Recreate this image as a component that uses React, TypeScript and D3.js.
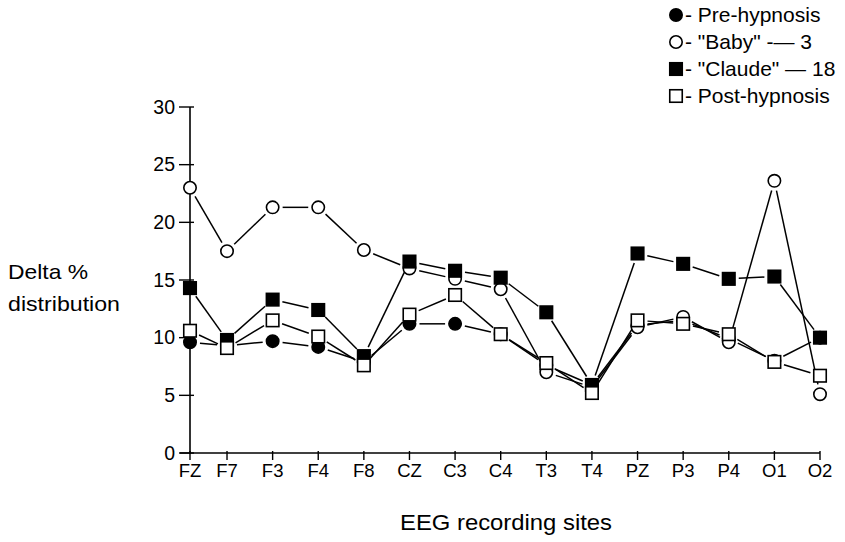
import React from "react";
import * as d3 from "d3";

const sites = ["FZ", "F7", "F3", "F4", "F8", "CZ", "C3", "C4", "T3", "T4", "PZ", "P3", "P4", "O1", "O2"];
const preHypnosis = [9.6, 9.3, 9.7, 9.2, 7.9, 11.2, 11.2, 10.3, 7.6, 5.9, 11.1, 11.5, 9.9, 8.0, 10.0];
const baby3 = [23.0, 17.5, 21.3, 21.3, 17.6, 16.0, 15.1, 14.2, 7.0, 5.7, 10.9, 11.8, 9.6, 23.6, 5.1];
const claude18 = [14.3, 9.8, 13.3, 12.4, 8.4, 16.6, 15.8, 15.2, 12.2, 5.9, 17.3, 16.4, 15.1, 15.3, 10.0];
const postHypnosis = [10.6, 9.1, 11.5, 10.1, 7.6, 12.0, 13.7, 10.3, 7.8, 5.2, 11.5, 11.2, 10.3, 7.9, 6.7];
const yTicks = [0, 5, 10, 15, 20, 25, 30];

const seriesNames = ["- Pre-hypnosis", '- "Baby" -— 3', '- "Claude" — 18', "- Post-hypnosis"];
const seriesValues = [preHypnosis, baby3, claude18, postHypnosis];
const seriesShape = ["circle", "circle", "square", "square"];
const seriesFill = ["#000", "#fff", "#000", "#fff"];

const W = 845;
const H = 542;
const axisX = 190;
const FONT = "'Liberation Sans', Arial, Helvetica, sans-serif";

export default function App() {
  const x = d3.scalePoint<string>().domain(sites).range([181.4, 820]);
  const px = (s: string) => Math.max(x(s) as number, axisX);
  const y = d3.scaleLinear().domain([0, 30]).range([453, 107]);

  const R = 6.2;
  const S = 12.5;
  const GAP = 10;

  const marker = (shape: string, fill: string, cx: number, cy: number, key: string) =>
    shape === "circle" ? (
      <circle key={key} cx={cx} cy={cy} r={R} fill={fill} stroke="#000" strokeWidth={1.6} />
    ) : (
      <rect key={key} x={cx - S / 2} y={cy - S / 2} width={S} height={S} fill={fill} stroke="#000" strokeWidth={1.6} />
    );

  const segments: JSX.Element[] = [];
  seriesValues.forEach((vals, si) => {
    for (let i = 0; i < vals.length - 1; i++) {
      const x1 = px(sites[i]);
      const y1 = y(vals[i]);
      const x2 = px(sites[i + 1]);
      const y2 = y(vals[i + 1]);
      const dx = x2 - x1;
      const dy = y2 - y1;
      const len = Math.hypot(dx, dy);
      if (len <= 2 * GAP) continue;
      const ux = dx / len;
      const uy = dy / len;
      segments.push(
        <line
          key={`s${si}-${i}`}
          x1={x1 + ux * GAP}
          y1={y1 + uy * GAP}
          x2={x2 - ux * GAP}
          y2={y2 - uy * GAP}
          stroke="#000"
          strokeWidth={1.5}
        />
      );
    }
  });

  return (
    <svg
      width={W}
      height={H}
      style={{ position: "absolute", left: 0, top: 0, background: "#fff" }}
      fontFamily={FONT}
    >
      <rect width={W} height={H} fill="#fff" />
      {/* axes */}
      <line x1={axisX} y1={y(30)} x2={axisX} y2={y(0) + 1} stroke="#000" strokeWidth={1.6} />
      <line x1={180} y1={y(0)} x2={820} y2={y(0)} stroke="#000" strokeWidth={1.6} />
      {yTicks.map((t) => (
        <g key={`yt${t}`}>
          <line x1={179} x2={194} y1={y(t)} y2={y(t)} stroke="#000" strokeWidth={1.4} />
          <text x={175} y={y(t)} dy="0.35em" textAnchor="end" fontSize={19.5} fill="#000">
            {t}
          </text>
        </g>
      ))}
      {sites.map((s) => (
        <g key={`xt${s}`}>
          <line x1={px(s)} x2={px(s)} y1={y(0) - 2} y2={y(0) + 7} stroke="#000" strokeWidth={1.4} />
          <text x={px(s)} y={477} textAnchor="middle" fontSize={18.5} fill="#000">
            {s}
          </text>
        </g>
      ))}
      {/* axis titles */}
      <text x={400} y={530} fontSize={22} textLength={212} lengthAdjust="spacingAndGlyphs" fill="#000">
        EEG recording sites
      </text>
      <text x={8} y={279} fontSize={21} textLength={80} lengthAdjust="spacingAndGlyphs" fill="#000">
        Delta %
      </text>
      <text x={8} y={311} fontSize={21} textLength={112} lengthAdjust="spacingAndGlyphs" fill="#000">
        distribution
      </text>

      {/* lines */}
      {segments}
      {/* markers */}
      {seriesValues.map((vals, si) =>
        vals.map((v, i) => marker(seriesShape[si], seriesFill[si], px(sites[i]), y(v), `m${si}-${i}`))
      )}

      {/* legend */}
      {seriesNames.map((name, si) => {
        const ly = 15 + si * 27;
        return (
          <g key={`lg${si}`}>
            {marker(seriesShape[si], seriesFill[si], 676, ly, `lm${si}`)}
            <text x={685} y={ly} dy="0.35em" fontSize={21} fill="#000">
              {name}
            </text>
          </g>
        );
      })}
    </svg>
  );
}
